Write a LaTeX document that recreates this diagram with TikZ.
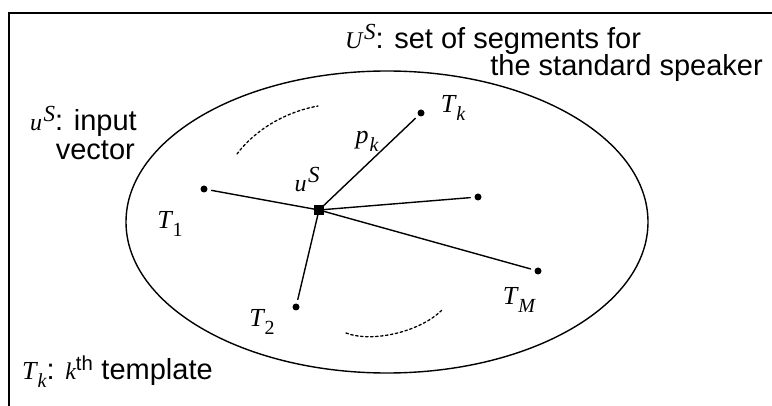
\documentclass[tikz,border=0pt]{standalone}
\usepackage{fontspec}
\setmainfont{Liberation Sans}
\newfontfamily\symfont{Liberation Serif}
% italic symbol with a low subscript, or with a high superscript
\newcommand{\vsub}[2]{{\symfont\itshape\fontsize{26}{30}\selectfont #1\kern1pt\raisebox{-8pt}{\fontsize{20}{24}\selectfont #2}}}
\newcommand{\vsup}[2]{{\symfont\itshape\fontsize{24}{28}\selectfont #1\kern1.5pt\raisebox{9pt}{\fontsize{23}{26}\selectfont #2}}}
\begin{document}
\begin{tikzpicture}[x=1pt, y=-1pt, line cap=round,
          txt/.style={font=\fontsize{29}{32}\selectfont, inner sep=0pt},
          lab/.style={inner sep=0pt},
          tpl/.style={circle, fill=black, inner sep=0pt, minimum size=7pt},
          inp/.style={rectangle, fill=black, inner sep=0pt, minimum size=10pt},
          link/.style={line width=1.4pt, shorten >=4pt},
          elided/.style={line width=1.3pt, dash pattern=on 2.5pt off 2.5pt}]
        \useasboundingbox (0,0) rectangle (772,406);
        % frame: only the top and left sides are in the picture
        \draw[line width=1.8pt] (9,406) -- (9,13) -- (772,13);
        \draw[line width=1.4pt] (387,222) ellipse [x radius=261, y radius=151];
        \node[inp] (uS) at (319,210) {};
        \node[tpl] (t1) at (204,189) {};
        \node[tpl] (tk) at (421,113) {};
        \node[tpl] (tr) at (478,197) {};
        \node[tpl] (tm) at (538,271) {};
        \node[tpl] (t2) at (296,307) {};
        \foreach \t in {t1,tk,tr,tm,t2}
          \draw[link] (uS.center) -- (\t);
        \node[lab] (uSlab) at (307,180) {\vsup{u}{S}};
        \node[lab] (t1lab) at (170,224) {\vsub{T}{\upshape 1}};
        \node[lab] (tklab) at (453,108) {\vsub{T}{k}};
        \node[lab] (pklab) at (367,141) {\vsub{p}{k}};
        \node[lab] (t2lab) at (262,322) {\vsub{T}{\upshape 2}};
        \node[lab] (tmlab) at (519,300) {\vsub{T}{M}};
        % templates left out
        \draw[elided] (237,154) .. controls (255,130) and (285,112) .. (318,106);
        \draw[elided] (346,333) .. controls (372,343) and (420,332) .. (442,310);
        % captions
        \node[txt, anchor=base west] (setA) at (345,49) {\vsup{U}{S}: set of segments for};
        \node[txt, anchor=base east] (setB) at (763,76) {the standard speaker};
        \node[txt, anchor=base east] (inpA) at (137,131) {\vsup{u}{S}: input};
        \node[txt, anchor=base east] (inpB) at (135,160) {vector};
        \node[txt, anchor=base west] (tplA) at (22,380) {\vsub{T}{k}: {\symfont\itshape\fontsize{24}{28}\selectfont k}\textsuperscript{th} template};
      \end{tikzpicture}
\end{document}
